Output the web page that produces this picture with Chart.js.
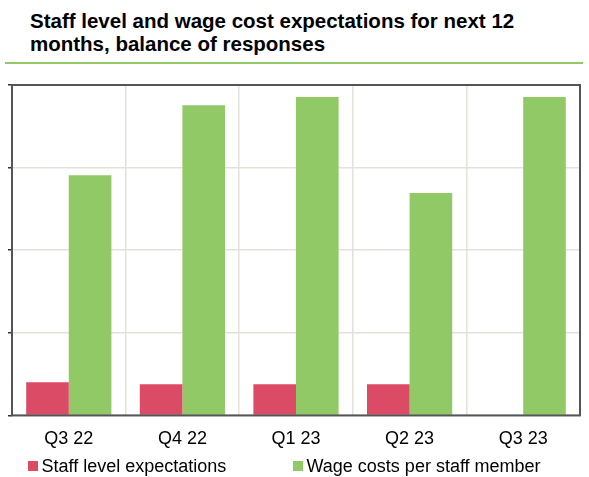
<!DOCTYPE html>
<html>
<head>
<meta charset="utf-8">
<script src="https://cdn.jsdelivr.net/npm/chart.js@4"></script>
<style>
  body { margin: 0; background: #fff; font-family: "Liberation Sans", Arial, sans-serif; }
  #wrap { position: relative; width: 589px; height: 477px; }
  #title { position: absolute; left: 30px; top: 9px; font-size: 20.5px; font-weight: bold; line-height: 23px; color: #000; }
  #rule { position: absolute; left: 5px; top: 62px; width: 578px; height: 2px; background: #92c967; }
  #box { position: absolute; left: 0; top: 80px; width: 589px; height: 383px; }
  #legend { position: absolute; top: 456px; left: 0; font-size: 18px; line-height: 20px; color: #000; }
  .sw { position: absolute; top: 5px; width: 10px; height: 10px; }
  .txt { position: absolute; top: 0; white-space: nowrap; }
</style>
</head>
<body>
<div id="wrap">
  <div id="title">Staff level and wage cost expectations for next 12<br>months, balance of responses</div>
  <div id="rule"></div>
  <div id="box"><canvas id="myChart"></canvas></div>
  <div id="legend"></div>
</div>
<script>
// ข้อมูลจากรูป (ไม่มีตัวเลขแกน y จึงใช้สเกล 0-100)
const categories = ["Q3 22", "Q4 22", "Q1 23", "Q2 23", "Q3 23"];
const staffLevel = [10, 9.4, 9.4, 9.4, null];
const wageCosts = [72.7, 93.9, 96.4, 67.3, 96.4];
const seriesNames = ["Staff level expectations", "Wage costs per staff member"];
const seriesColors = ["#dc4b65", "#92c967"];
const legendX = [28, 293];

// legend แบบ html
const legend = document.getElementById('legend');
seriesNames.forEach((name, i) => {
    legend.insertAdjacentHTML('beforeend',
        `<span class="sw" style="left:${legendX[i]}px;background:${seriesColors[i]}"></span>` +
        `<span class="txt" style="left:${legendX[i] + 13.5}px">${name}</span>`);
});

// กรอบรอบพื้นที่กราฟ
const frame = {
    id: 'frame',
    afterDraw(chart) {
        const a = chart.chartArea;
        const c = chart.ctx;
        c.save();
        c.strokeStyle = '#555';
        c.lineWidth = 2;
        c.strokeRect(a.left, a.top, a.right - a.left, a.bottom - a.top);
        c.restore();
    }
};

new Chart(document.getElementById('myChart'), {
    type: 'bar',
    data: {
        labels: categories,
        datasets: [
            { label: seriesNames[0], data: staffLevel, backgroundColor: seriesColors[0] },
            { label: seriesNames[1], data: wageCosts, backgroundColor: seriesColors[1] }
        ]
    },
    options: {
        responsive: true,
        maintainAspectRatio: false,
        animation: false,
        layout: { padding: { left: 8, right: 9, top: 5, bottom: 0 } },
        datasets: { bar: { categoryPercentage: 0.75, barPercentage: 1 } },
        scales: {
            x: {
                grid: { color: '#e2e2da', lineWidth: 1.5, drawTicks: false },
                border: { display: false },
                ticks: { color: '#000', padding: 13, font: { family: 'Liberation Sans', size: 18 } }
            },
            y: {
                min: 0, max: 100,
                ticks: { display: false, stepSize: 25 },
                grid: { color: '#e2e2da', lineWidth: 1.5, tickColor: '#333', tickLength: 4 },
                border: { display: false }
            }
        },
        plugins: {
            legend: { display: false },
            tooltip: { enabled: false }
        }
    },
    plugins: [frame]
});
</script>
</body>
</html>
